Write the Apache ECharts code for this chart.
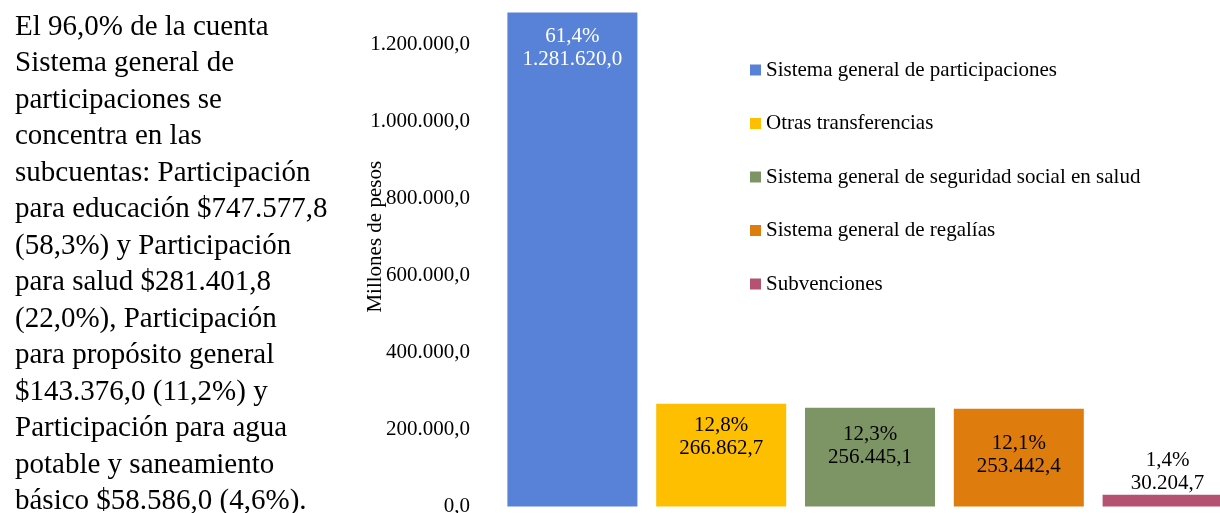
<!DOCTYPE html>
<html>
<head>
<meta charset="utf-8">
<script src="https://cdn.jsdelivr.net/npm/echarts@6/dist/echarts.min.js"></script>
<style>
  html, body { margin: 0; padding: 0; background: #fff; }
  #main { width: 1220px; height: 513px; }
</style>
</head>
<body>
<div id="main"></div>
<script>
var categories = ['Sistema general de participaciones', 'Otras transferencias', 'Sistema general de seguridad social en salud', 'Sistema general de regalías', 'Subvenciones'];
var values = [1281620.0, 266862.7, 256445.1, 253442.4, 30204.7];
var shares = [61.4, 12.8, 12.3, 12.1, 1.4];
var colors = ['#5881d8', '#fdbf00', '#7d9465', '#de7c0e', '#b55272'];
var yMax = 1400000;
var yStep = 200000;

var paragraph = [
    'El 96,0% de la cuenta',
    'Sistema general de',
    'participaciones se',
    'concentra en las',
    'subcuentas: Participación',
    'para educación $747.577,8',
    '(58,3%) y Participación',
    'para salud $281.401,8',
    '(22,0%), Participación',
    'para propósito general',
    '$143.376,0 (11,2%) y',
    'Participación para agua',
    'potable y saneamiento',
    'básico $58.586,0 (4,6%).'
];

var FONT = '"Liberation Serif", "Times New Roman", serif';

// 1281620 -> "1.281.620,0"
function fmt(v) {
    var s = v.toFixed(1).split('.');
    return s[0].replace(/\B(?=(\d{3})+(?!\d))/g, '.') + ',' + s[1];
}

// label placement per bar (inside top for the big ones, above for the small one)
var labelPos = ['insideTop', 'insideTop', 'insideTop', 'insideTop', 'top'];
var labelDist = [12, 10, 15, 23, 0];
var labelColor = ['#ffffff', '#000000', '#000000', '#000000', '#000000'];

var chart = echarts.init(document.getElementById('main'));

var series = [];
for (var i = 0; i < categories.length; i++) {
    (function (i) {
        series.push({
            name: categories[i],
            type: 'bar',
            stack: 'total',
            barWidth: 130,
            itemStyle: { color: colors[i] },
            data: categories.map(function (c, j) { return j === i ? values[i] : '-'; }),
            label: {
                show: true,
                position: labelPos[i],
                distance: labelDist[i],
                color: labelColor[i],
                fontFamily: FONT,
                fontSize: 21,
                lineHeight: 23,
                align: 'center',
                formatter: function () {
                    return shares[i].toFixed(1).replace('.', ',') + '%\n' + fmt(values[i]);
                }
            }
        });
    })(i);
}

var option = {
    animation: false,
    backgroundColor: '#ffffff',
    grid: { left: 498, right: -22, top: -33, bottom: 6.5, outerBoundsMode: 'none', containLabel: false },
    legend: {
        orient: 'vertical',
        left: 750,
        top: 59,
        padding: 0,
        icon: 'rect',
        itemWidth: 11,
        itemHeight: 11,
        itemGap: 31.5,
        data: categories,
        textStyle: { fontFamily: FONT, fontSize: 21, lineHeight: 22, color: '#000' }
    },
    xAxis: {
        type: 'category',
        data: categories,
        axisLine: { show: false },
        axisTick: { show: false },
        axisLabel: { show: false },
        splitLine: { show: false }
    },
    yAxis: {
        type: 'value',
        min: 0,
        max: yMax,
        interval: yStep,
        name: 'Millones de pesos',
        nameLocation: 'middle',
        nameGap: 112,
        nameMoveOverlap: false,
        nameTextStyle: { fontFamily: FONT, fontSize: 21, color: '#000' },
        axisLine: { show: false },
        axisTick: { show: false },
        splitLine: { show: false },
        axisLabel: {
            margin: 28,
            fontFamily: FONT,
            fontSize: 21,
            color: '#000',
            formatter: function (v) { return fmt(v); }
        }
    },
    graphic: [{
        type: 'text',
        left: 15,
        top: 9,
        style: {
            text: paragraph.join('\n'),
            font: '29px ' + FONT,
            lineHeight: 36.5,
            fill: '#000'
        }
    }],
    series: series
};

chart.setOption(option);
</script>
</body>
</html>
